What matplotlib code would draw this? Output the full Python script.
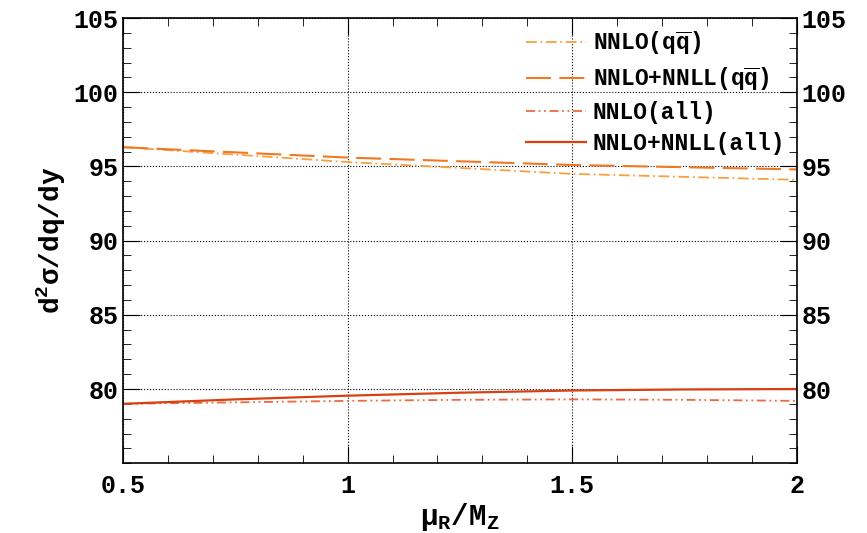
import matplotlib.pyplot as plt
from matplotlib.ticker import MultipleLocator

mu = [0.5, 0.75, 1.0, 1.25, 1.5, 1.75, 2.0]
nnlo_qq = [96.3, 95.8, 95.3, 94.9, 94.5, 94.3, 94.1]
nnll_qq = [96.3, 95.95, 95.6, 95.35, 95.1, 94.95, 94.8]
nnlo_all = [79.0, 79.1, 79.2, 79.27, 79.3, 79.27, 79.2]
nnll_all = [79.0, 79.3, 79.55, 79.75, 79.9, 79.97, 80.0]

plt.rcParams['font.family'] = ['Liberation Mono', 'DejaVu Sans Mono']
plt.rcParams['font.weight'] = 'bold'
plt.rcParams['axes.labelweight'] = 'bold'
plt.rcParams['mathtext.fontset'] = 'custom'
plt.rcParams['mathtext.rm'] = 'Liberation Mono:bold'
plt.rcParams['mathtext.it'] = 'Liberation Mono:bold'
plt.rcParams['mathtext.bf'] = 'Liberation Mono:bold'

fig = plt.figure(figsize=(8.67, 5.33), dpi=100)
ax = fig.add_axes([0.142, 0.131, 0.777, 0.835])

ax.plot(mu, nnlo_qq, color='#f8a040', ls=(0, (6, 2, 1, 2)), lw=1.3, label=r'NNLO(q$\mathrm{\overline{q}}$)')
ax.plot(mu, nnll_qq, color='#f07820', ls=(0, (12, 4)), lw=1.5, label=r'NNLO+NNLL(q$\mathrm{\overline{q}}$)')
ax.plot(mu, nnlo_all, color='#f06840', ls=(0, (5, 2, 1, 2, 1, 2)), lw=1.3, label='NNLO(all)')
ax.plot(mu, nnll_all, color='#d84010', lw=1.6, label='NNLO+NNLL(all)')

ax.set_xlim(0.5, 2)
ax.set_ylim(75, 105)
ax.xaxis.set_minor_locator(MultipleLocator(0.1))
ax.yaxis.set_minor_locator(MultipleLocator(1))
ax.set_xticks([0.5, 1, 1.5, 2], ['0.5', '1', '1.5', '2'])
ax.set_yticks([80, 85, 90, 95, 100, 105])
ax.tick_params(which='both', direction='in', top=True, right=True, labelright=True, labelsize=18)
ax.tick_params(axis='x', pad=8)
ax.tick_params(which='major', length=12)
ax.tick_params(which='minor', length=6)
ax.grid(True, which='major', ls=':', color='black', lw=0.8)
for s in ax.spines.values():
    s.set_linewidth(1.2)

ax.set_xlabel(r'$\mathrm{\mu_R}$/M$_\mathrm{Z}$', fontsize=21, labelpad=2)
ax.set_ylabel(r'd$^\mathrm{2}\mathrm{\sigma}$/dq/dy', fontsize=20)

ax.legend(loc='upper right', frameon=False, handlelength=2.6,
          labelspacing=0.35, borderaxespad=0.1, handletextpad=0.3,
          prop={'size': 16.5, 'weight': 'bold'})

fig.savefig('out.png')
